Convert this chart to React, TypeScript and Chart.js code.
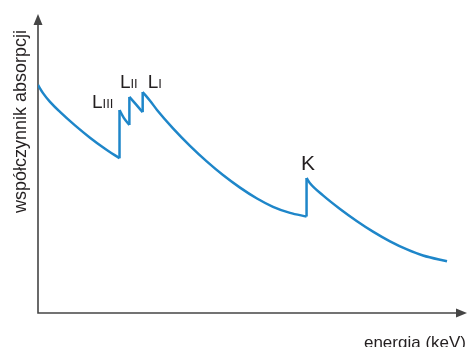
import React, { useEffect, useRef } from "react";
import { Chart, registerables } from "chart.js";

Chart.register(...registerables);

// Absorption curve, split into continuous segments between absorption edges
const segA_energy = [0, 1.17, 2.8, 5.13, 8.62, 12.12, 15.62, 19.0];
const segA_mu = [76.51, 73.79, 70.86, 67.5, 62.97, 58.84, 55.12, 51.91];

const segB_energy = [19.0, 20.0, 21.3];
const segB_mu = [68.1, 65.5, 63.1];

const segC_energy = [21.3, 22.84, 24.4];
const segC_mu = [72.5, 70.0, 67.4];

const segD_energy = [24.4, 26.11, 27.74, 31.47, 35.43, 39.39, 43.12, 47.09, 51.05, 54.78, 58.74, 62.6];
const segD_mu = [74.16, 71.24, 68.15, 61.98, 56.11, 50.81, 46.31, 42.08, 38.42, 35.64, 33.59, 32.38];

const segE_energy = [62.6, 63.4, 66.43, 70.4, 74.36, 78.09, 82.05, 86.01, 89.74, 95.34];
const segE_mu = [45.3, 43.54, 39.48, 34.92, 30.81, 27.32, 24.06, 21.34, 19.3, 17.35];

// Edge labels (anchored at the peak of each edge = first point of segments B..E)
const edgeMain = ["L", "L", "L", "K"];
const edgeSub = ["III", "II", "I", ""];

const xTitle = "energia (keV)";
const yTitle = "współczynnik absorpcji";

const BLUE = "#1e86c9";
const AXIS = "#454545";
const TEXT = "#231f20";
const FONT = '"Liberation Sans", Arial, sans-serif';

export default function App() {
  const ref = useRef<HTMLCanvasElement | null>(null);

  useEffect(() => {
    const canvas = ref.current;
    if (!canvas) return;

    const segs = [
      [segA_energy, segA_mu],
      [segB_energy, segB_mu],
      [segC_energy, segC_mu],
      [segD_energy, segD_mu],
      [segE_energy, segE_mu],
    ];
    const pts = segs.map(([e, m]) => e.map((x, i) => ({ x, y: m[i] })));

    const datasets: any[] = [];
    pts.forEach((p, i) => {
      datasets.push({
        data: p,
        borderColor: BLUE,
        borderWidth: 2.5,
        pointRadius: 0,
        cubicInterpolationMode: "monotone",
        fill: false,
      });
      if (i < pts.length - 1) {
        const last = p[p.length - 1];
        const next = pts[i + 1][0];
        datasets.push({
          data: [last, next],
          borderColor: BLUE,
          borderWidth: 2.5,
          pointRadius: 0,
          tension: 0,
          fill: false,
        });
      }
    });

    // pixel offsets of labels from their edge peaks
    const labelOffsets = [
      [-27.5, -2],
      [-9.5, -9],
      [5, -4],
      [-5.5, -8],
    ];
    const mainSizes = [19, 19, 19, 21];

    const deco = {
      id: "deco",
      beforeDatasetsDraw(chart: any) {
        const { ctx, chartArea } = chart;
        const x0 = chartArea.left;
        const y0 = chartArea.bottom;
        const top = chartArea.top - 1;
        const right = chartArea.right;
        ctx.save();
        ctx.strokeStyle = AXIS;
        ctx.fillStyle = AXIS;
        ctx.lineWidth = 1.6;
        ctx.beginPath();
        ctx.moveTo(x0, top + 8);
        ctx.lineTo(x0, y0);
        ctx.lineTo(right - 8, y0);
        ctx.stroke();
        // y arrow
        ctx.beginPath();
        ctx.moveTo(x0, top);
        ctx.lineTo(x0 - 4.5, top + 11);
        ctx.lineTo(x0 + 4.5, top + 11);
        ctx.closePath();
        ctx.fill();
        // x arrow
        ctx.beginPath();
        ctx.moveTo(right, y0);
        ctx.lineTo(right - 11, y0 - 4.5);
        ctx.lineTo(right - 11, y0 + 4.5);
        ctx.closePath();
        ctx.fill();
        ctx.restore();
      },
      afterDatasetsDraw(chart: any) {
        const { ctx } = chart;
        const xs = chart.scales.x;
        const ys = chart.scales.y;
        ctx.save();
        ctx.fillStyle = TEXT;
        ctx.textBaseline = "alphabetic";
        ctx.textAlign = "left";
        for (let i = 0; i < edgeMain.length; i++) {
          const anchor = pts[i + 1][0];
          const px = xs.getPixelForValue(anchor.x) + labelOffsets[i][0];
          const py = ys.getPixelForValue(anchor.y) + labelOffsets[i][1];
          ctx.font = `${mainSizes[i]}px ${FONT}`;
          ctx.fillText(edgeMain[i], px, py);
          const w = ctx.measureText(edgeMain[i]).width;
          if (edgeSub[i]) {
            ctx.font = `13px ${FONT}`;
            ctx.fillText(edgeSub[i], px + w, py);
          }
        }
        // axis titles
        ctx.font = `17px ${FONT}`;
        ctx.textAlign = "right";
        ctx.fillText(xTitle, 466, 348);

        ctx.translate(26, 30);
        ctx.rotate(-Math.PI / 2);
        ctx.font = `18px ${FONT}`;
        ctx.textAlign = "right";
        ctx.fillText(yTitle, 0, 0);
        ctx.restore();
      },
    };

    const chart = new Chart(canvas, {
      type: "line",
      data: { datasets },
      options: {
        animation: false,
        responsive: false,
        devicePixelRatio: 1,
        layout: { padding: { left: 38, top: 15, right: 1, bottom: 34 } },
        plugins: { legend: { display: false }, tooltip: { enabled: false } },
        scales: {
          x: { type: "linear", min: 0, max: 100, display: false },
          y: { type: "linear", min: 0, max: 100, display: false },
        },
      },
      plugins: [deco],
    });
    return () => chart.destroy();
  }, []);

  return (
    <div style={{ position: "fixed", left: 0, top: 0, width: 468, height: 347, background: "#fff" }}>
      <canvas ref={ref} width={468} height={347} style={{ display: "block" }} />
    </div>
  );
}
